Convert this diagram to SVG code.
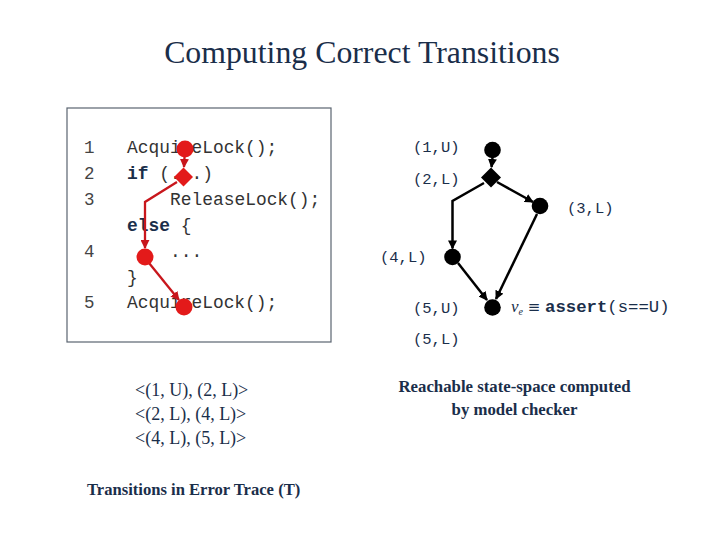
<svg xmlns="http://www.w3.org/2000/svg" width="720" height="540" viewBox="0 0 720 540">
<style>
.title{font-family:"Liberation Serif",serif;font-size:31.8px;fill:#1a2e4a}
.code{font-family:"Liberation Mono",monospace;font-size:17.9px;fill:#333}
.kw{font-family:"Liberation Mono",monospace;font-size:17.9px;font-weight:bold;fill:#1a2e4a}
.num{font-family:"Liberation Mono",monospace;font-size:17.5px;fill:#444}
.lbl{font-family:"Liberation Mono",monospace;font-size:15.5px;fill:#1a2e4a}
.ser{font-family:"Liberation Serif",serif;font-size:18px;fill:#1a2e4a}
.serb{font-family:"Liberation Serif",serif;font-size:16.6px;font-weight:bold;fill:#1a2e4a}
.cap{font-family:"Liberation Serif",serif;font-size:16.8px;font-weight:bold;fill:#1a2e4a}
.red{fill:#e31a1a}
.blk{fill:#000}
.redln{stroke:#c8161c;stroke-width:2.3;fill:none}
.blkln{stroke:#000;stroke-width:2.5;fill:none}
</style>
<defs>
<marker id="ab" viewBox="0 0 10 10" refX="9" refY="5" markerWidth="9" markerHeight="9" markerUnits="userSpaceOnUse" orient="auto"><path d="M0,0L10,5L0,10z" fill="#000"/></marker>
<marker id="ar" viewBox="0 0 10 10" refX="9" refY="5" markerWidth="9" markerHeight="9" markerUnits="userSpaceOnUse" orient="auto"><path d="M0,0L10,5L0,10z" fill="#c8161c"/></marker>
</defs>
<rect width="720" height="540" fill="#fff"/>
<text class="title" x="362" y="63" text-anchor="middle">Computing Correct Transitions</text>

<g id="code-box">
<rect x="67" y="108" width="264" height="234" fill="none" stroke="#5a6470" stroke-width="1.2"/>
<text class="num" x="84" y="153">1</text>
<text class="num" x="84" y="179">2</text>
<text class="num" x="84" y="205">3</text>
<text class="num" x="84" y="257">4</text>
<text class="num" x="84" y="308">5</text>
<text class="code" x="127" y="153">AcquireLock();</text>
<text class="code" x="127" y="179"><tspan class="kw">if</tspan> (...)</text>
<text class="code" x="170" y="205">ReleaseLock();</text>
<text class="code" x="127" y="231"><tspan class="kw">else</tspan> {</text>
<text class="code" x="170" y="257">...</text>
<text class="code" x="127" y="283">}</text>
<text class="code" x="127" y="308">AcquireLock();</text>
</g>

<g id="red-connectors">
<line class="redln" x1="184.5" y1="157" x2="184" y2="167" marker-end="url(#ar)"/>
<polyline class="redln" points="177,182 145,202 145,248" marker-end="url(#ar)"/>
<line class="redln" x1="149" y1="263" x2="179" y2="300" marker-end="url(#ar)"/>
</g>
<g id="red-n1"><circle class="red" cx="185" cy="149" r="8.5"/></g>
<g id="red-n2"><path class="red" d="M183.5,167.5L193,177L183.5,186.5L174,177z"/></g>
<g id="red-n4"><circle class="red" cx="145" cy="257" r="8.5"/></g>
<g id="red-n5"><circle class="red" cx="184" cy="307" r="8.5"/></g>

<g id="connectors">
<line class="blkln" x1="492.5" y1="158" x2="491.5" y2="167" marker-end="url(#ab)"/>
<line class="blkln" x1="497" y1="182" x2="533" y2="202" marker-end="url(#ab)"/>
<polyline class="blkln" points="484,183 452.5,201 452.5,248.5" marker-end="url(#ab)"/>
<line class="blkln" x1="458" y1="263" x2="487" y2="300" marker-end="url(#ab)"/>
<line class="blkln" x1="537" y1="214" x2="496" y2="299" marker-end="url(#ab)"/>
</g>
<g id="n1"><circle class="blk" cx="492.5" cy="150" r="8.3"/><text class="lbl" x="413" y="152">(1,U)</text></g>
<g id="n2"><path class="blk" d="M491,167.5L501,177.5L491,187.5L481,177.5z"/><text class="lbl" x="413" y="184">(2,L)</text></g>
<g id="n3"><circle class="blk" cx="540" cy="206" r="8.3"/><text class="lbl" x="567" y="213">(3,L)</text></g>
<g id="n4"><circle class="blk" cx="452.5" cy="257" r="8.3"/><text class="lbl" x="380" y="262">(4,L)</text></g>
<g id="n5"><circle class="blk" cx="492.5" cy="307.5" r="8.3"/><text class="lbl" x="413" y="313">(5,U)</text><text class="lbl" x="413" y="344">(5,L)</text>
<text x="511" y="312" fill="#1a2e4a"><tspan font-family="Liberation Serif,serif" font-style="italic" font-size="17">v</tspan><tspan font-family="Liberation Serif,serif" font-style="italic" font-size="10" dy="3">e</tspan><tspan font-family="DejaVu Sans,sans-serif" font-size="15" dy="-3"> ≡ </tspan><tspan font-family="Liberation Mono,monospace" font-size="17.3" font-weight="bold">assert</tspan><tspan font-family="Liberation Mono,monospace" font-size="17.3">(s==U)</tspan></text>
</g>

<g id="traces">
<text class="ser" x="135" y="396">&lt;(1, U), (2, L)&gt;</text>
<text class="ser" x="135" y="420">&lt;(2, L), (4, L)&gt;</text>
<text class="ser" x="135" y="444">&lt;(4, L), (5, L)&gt;</text>
<text class="serb" x="87" y="495">Transitions in Error Trace (T)</text>
</g>
<g id="caption">
<text class="cap" x="514.5" y="392" text-anchor="middle">Reachable state-space computed</text>
<text class="cap" x="514.5" y="415" text-anchor="middle">by model checker</text>
</g>
</svg>
